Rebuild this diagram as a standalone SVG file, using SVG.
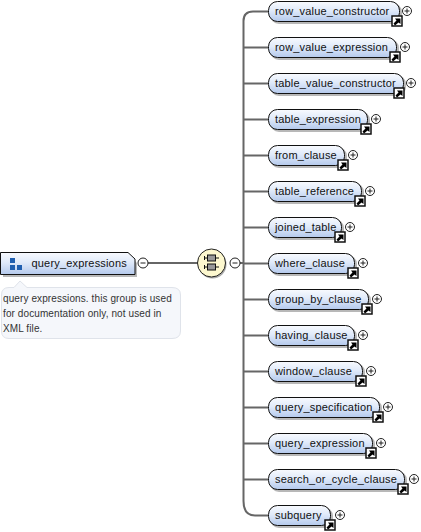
<svg xmlns="http://www.w3.org/2000/svg" xmlns:xlink="http://www.w3.org/1999/xlink" width="421" height="532" viewBox="0 0 421 532">
<style>
text{font-family:"Liberation Sans",Arial,sans-serif;font-size:11px;fill:#111;letter-spacing:.18px}
.n{fill:url(#g);stroke:#111;stroke-width:1}
.s{fill:#9a9a9a;stroke:none;opacity:.7}
.c{fill:none;stroke:#666;stroke-width:2}
.o{fill:#fff;stroke:#222;stroke-width:1}
.m{stroke:#222;stroke-width:1;fill:none}
text.a{font-size:10px;letter-spacing:.1px;fill:#333}
</style>
<defs>
<linearGradient id="g" x1="0" y1="0" x2="0" y2="1"><stop offset="0" stop-color="#f8fafe"/><stop offset=".45" stop-color="#e0eafa"/><stop offset="1" stop-color="#b4c9ec"/></linearGradient>
<g id="plus"><circle class="o" r="4.5"/><path class="m" d="M-2.5 0H2.5M0-2.5V2.5"/></g>
<g id="minus"><circle class="o" r="5"/><path class="m" d="M-2.500 0H2.500"/></g>
<g id="link"><rect x="0" y="-1" width="10" height="10" fill="#fff" stroke="#111" stroke-width="1.500"/><path d="M1.500 6.500L4.500 3.500L3 1.500H8.500V7L6.500 5.500L3 8.500Z" fill="#000"/></g>
</defs>
<g id="connectors">
<path class="c" d="M148 263H198M240 263H243.500"/>
<path class="c" d="M268 11.500H253Q243.500 11.500 243.500 21V501Q243.500 515.500 255 515.500H268"/>
<path class="c" d="M244 47.500H268M244 83.500H268M244 119.500H268M244 155.500H268M244 191.500H268M244 227.500H268M244 263.500H268M244 299.500H268M244 335.500H268M244 371.500H268M244 407.500H268M244 443.500H268M244 479.500H268"/>
</g>
<g id="query_expressions">
<path class="s" d="M3 255H129L137 263V277H3Z"/>
<path d="M.5 252.500H128L135 259V274.500H.5Z" fill="url(#g)" stroke="#111"/>
<rect x="10" y="258" width="5" height="5" fill="#1f5fb0"/><rect x="10" y="265" width="5" height="5" fill="#1f5fb0"/><rect x="17" y="265" width="5" height="5" fill="#1f5fb0"/>
<text x="31.500" y="267">query_expressions</text>
<use xlink:href="#minus" x="143" y="263"/>
</g>
<g id="annotation">
<path d="M9 287.500H14L20 281L27 287.500H172Q180.500 287.500 180.500 295V331Q180.500 338.500 172 338.500H9Q1.500 338.500 1.500 331V295Q1.500 287.500 9 287.500Z" fill="#f5f7fb" stroke="#dfe3ea"/>
<text class="a" x="3" y="302">query expressions. this group is used</text>
<text class="a" x="3" y="317">for documentation only, not used in</text>
<text class="a" x="3" y="332">XML file.</text>
</g>
<g id="compositor">
<circle cx="212.500" cy="264.500" r="14" fill="#aaa"/>
<circle cx="211.500" cy="263" r="14" fill="#fdf8cf" stroke="#222"/>
<path d="M204 258H219M204 267H219" stroke="#111"/><path d="M204.500 256V260M204.500 265V269" stroke="#111"/>
<rect x="207.500" y="255" width="8" height="6" fill="#999" stroke="#111"/><rect x="207.500" y="264" width="8" height="6" fill="#999" stroke="#111"/>
<use xlink:href="#minus" x="235" y="263"/>
</g>
<g id="row_value_constructor"><rect class="s" x="270" y="3" width="132" height="21" rx="9"/><rect class="n" x="268.500" y="1.500" width="131" height="20" rx="9"/><text x="275" y="15">row_value_constructor</text><use xlink:href="#link" x="392" y="17"/><use xlink:href="#plus" x="407" y="11"/></g>
<g id="row_value_expression"><rect class="s" x="270" y="39" width="129" height="21" rx="9"/><rect class="n" x="268.500" y="37.500" width="128" height="20" rx="9"/><text x="275" y="51">row_value_expression</text><use xlink:href="#link" x="390" y="53"/><use xlink:href="#plus" x="405" y="47"/></g>
<g id="table_value_constructor"><rect class="s" x="270" y="75" width="136" height="21" rx="9"/><rect class="n" x="268.500" y="73.500" width="135" height="20" rx="9"/><text x="275" y="87">table_value_constructor</text><use xlink:href="#link" x="394" y="89"/><use xlink:href="#plus" x="411" y="83"/></g>
<g id="table_expression"><rect class="s" x="270" y="111" width="100" height="21" rx="9"/><rect class="n" x="268.500" y="109.500" width="99" height="20" rx="9"/><text x="275" y="123">table_expression</text><use xlink:href="#link" x="361" y="125"/><use xlink:href="#plus" x="376" y="119"/></g>
<g id="from_clause"><rect class="s" x="270" y="147" width="77" height="21" rx="9"/><rect class="n" x="268.500" y="145.500" width="76" height="20" rx="9"/><text x="275" y="159">from_clause</text><use xlink:href="#link" x="338" y="161"/><use xlink:href="#plus" x="353" y="155"/></g>
<g id="table_reference"><rect class="s" x="270" y="183" width="94" height="21" rx="9"/><rect class="n" x="268.500" y="181.500" width="93" height="20" rx="9"/><text x="275" y="195">table_reference</text><use xlink:href="#link" x="355" y="197"/><use xlink:href="#plus" x="370" y="191"/></g>
<g id="joined_table"><rect class="s" x="270" y="219" width="74" height="21" rx="9"/><rect class="n" x="268.500" y="217.500" width="73" height="20" rx="9"/><text x="275" y="231">joined_table</text><use xlink:href="#link" x="335" y="233"/><use xlink:href="#plus" x="350" y="227"/></g>
<g id="where_clause"><rect class="s" x="270" y="255" width="87" height="21" rx="9"/><rect class="n" x="268.500" y="253.500" width="86" height="20" rx="9"/><text x="275" y="267">where_clause</text><use xlink:href="#link" x="348" y="269"/><use xlink:href="#plus" x="363" y="263"/></g>
<g id="group_by_clause"><rect class="s" x="270" y="291" width="101" height="21" rx="9"/><rect class="n" x="268.500" y="289.500" width="100" height="20" rx="9"/><text x="275" y="303">group_by_clause</text><use xlink:href="#link" x="362" y="305"/><use xlink:href="#plus" x="377" y="299"/></g>
<g id="having_clause"><rect class="s" x="270" y="327" width="87" height="21" rx="9"/><rect class="n" x="268.500" y="325.500" width="86" height="20" rx="9"/><text x="275" y="339">having_clause</text><use xlink:href="#link" x="348" y="341"/><use xlink:href="#plus" x="363" y="335"/></g>
<g id="window_clause"><rect class="s" x="270" y="363" width="95" height="21" rx="9"/><rect class="n" x="268.500" y="361.500" width="94" height="20" rx="9"/><text x="275" y="375">window_clause</text><use xlink:href="#link" x="356" y="377"/><use xlink:href="#plus" x="371" y="371"/></g>
<g id="query_specification"><rect class="s" x="270" y="399" width="112" height="21" rx="9"/><rect class="n" x="268.500" y="397.500" width="111" height="20" rx="9"/><text x="275" y="411">query_specification</text><use xlink:href="#link" x="373" y="413"/><use xlink:href="#plus" x="388" y="407"/></g>
<g id="query_expression"><rect class="s" x="270" y="435" width="105" height="21" rx="9"/><rect class="n" x="268.500" y="433.500" width="104" height="20" rx="9"/><text x="275" y="447">query_expression</text><use xlink:href="#link" x="366" y="449"/><use xlink:href="#plus" x="381" y="443"/></g>
<g id="search_or_cycle_clause"><rect class="s" x="270" y="471" width="137" height="21" rx="9"/><rect class="n" x="268.500" y="469.500" width="136" height="20" rx="9"/><text x="275" y="483">search_or_cycle_clause</text><use xlink:href="#link" x="398" y="485"/><use xlink:href="#plus" x="414" y="479"/></g>
<g id="subquery"><rect class="s" x="270" y="507" width="63" height="21" rx="9"/><rect class="n" x="268.500" y="505.500" width="62" height="20" rx="9"/><text x="275" y="519">subquery</text><use xlink:href="#link" x="325" y="521"/><use xlink:href="#plus" x="340" y="515"/></g>
</svg>
